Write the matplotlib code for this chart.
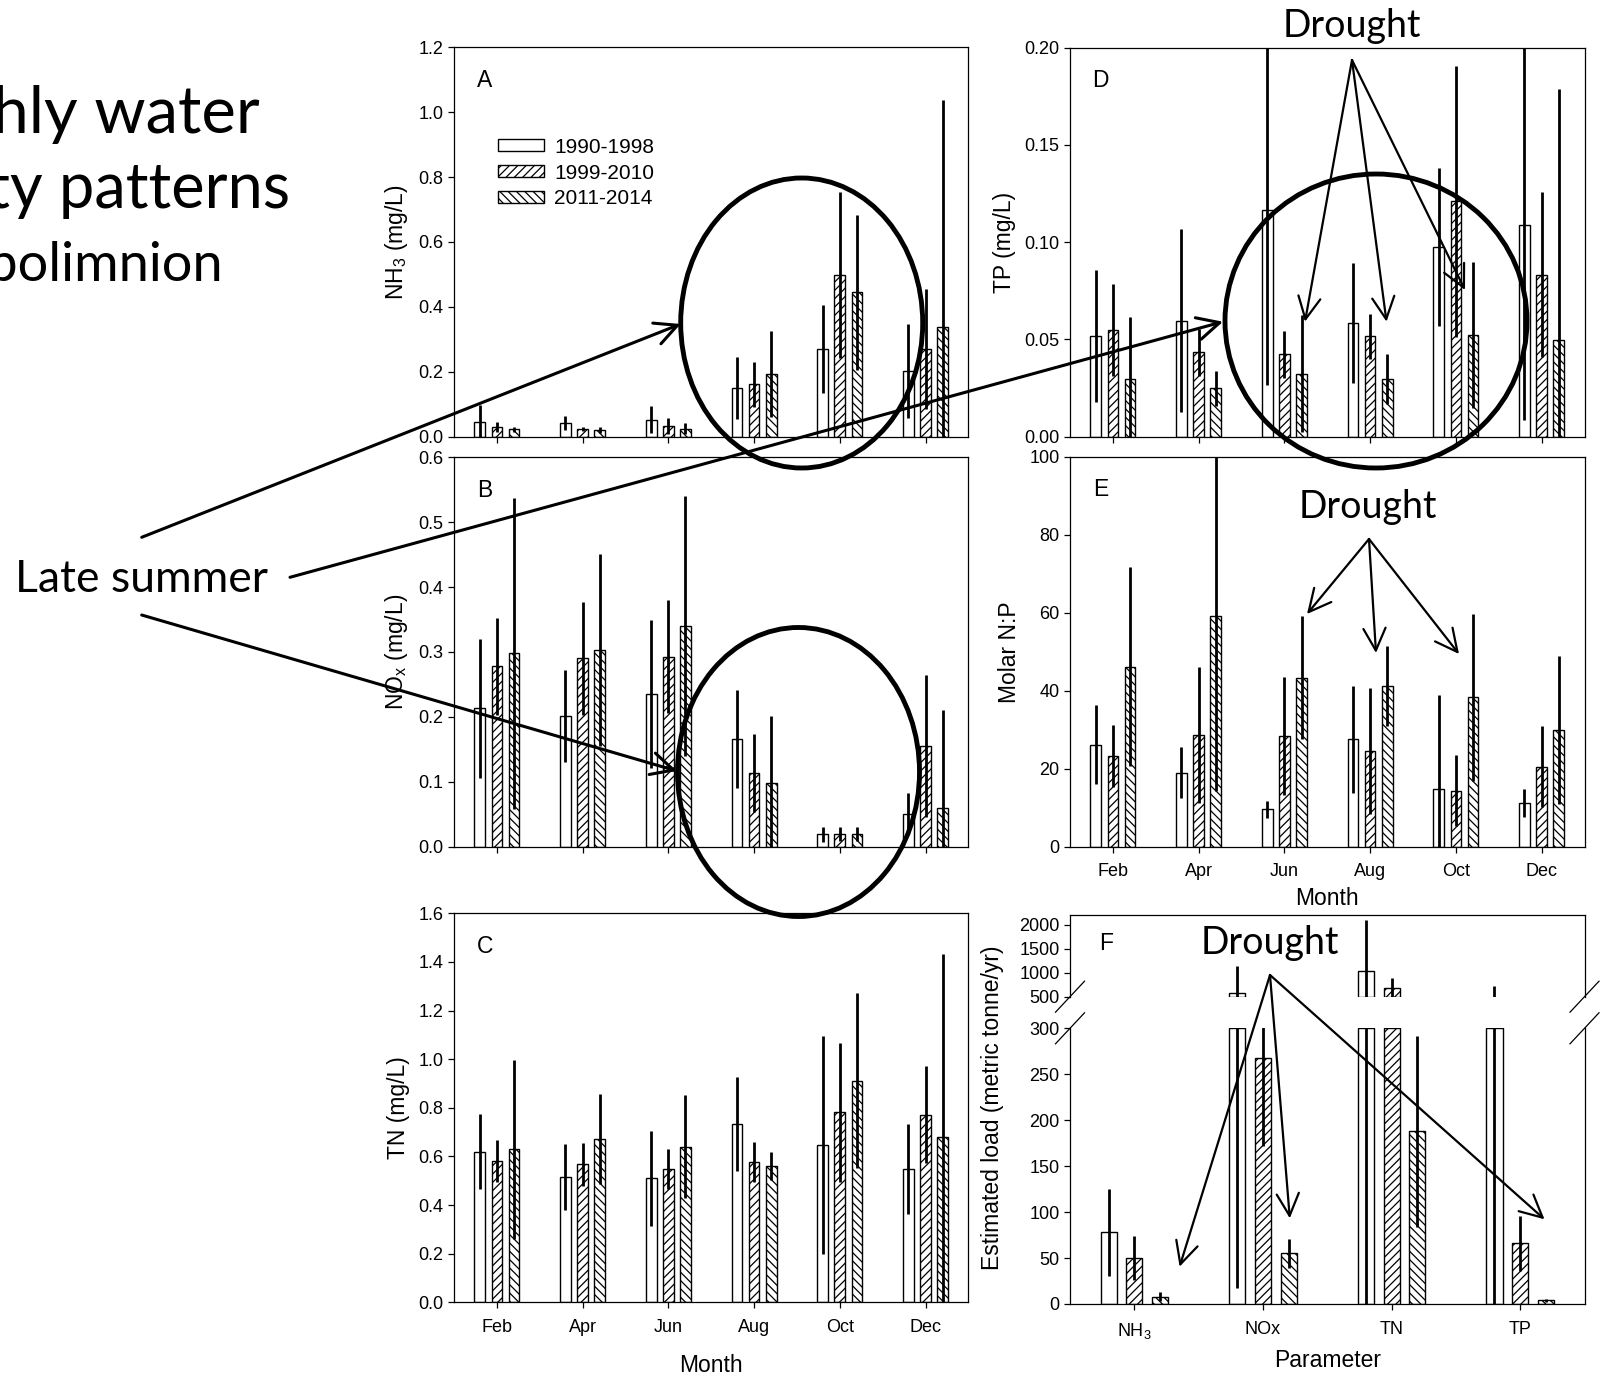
import numpy as np
import matplotlib
matplotlib.use("Agg")
import matplotlib.pyplot as plt
from matplotlib.patches import Ellipse, Patch
from matplotlib.ticker import FormatStrFormatter, MultipleLocator

plt.rcParams["font.family"] = ["Liberation Sans", "DejaVu Sans"]
plt.rcParams["mathtext.default"] = "regular"
plt.rcParams["hatch.linewidth"] = 0.9

# ---- data: rows are the three periods, columns the months ----
months = ["Feb", "Apr", "Jun", "Aug", "Oct", "Dec"]
periods = ["1990-1998", "1999-2010", "2011-2014"]

nh3_mean = [[0.046, 0.043, 0.053, 0.151, 0.271, 0.202],
            [0.031, 0.023, 0.033, 0.161, 0.498, 0.270],
            [0.023, 0.021, 0.025, 0.193, 0.445, 0.337]]
nh3_sd = [[0.052, 0.021, 0.043, 0.095, 0.135, 0.144],
          [0.015, 0.006, 0.024, 0.068, 0.255, 0.185],
          [0.008, 0.010, 0.016, 0.133, 0.238, 0.700]]

nox_mean = [[0.213, 0.201, 0.236, 0.166, 0.019, 0.051],
            [0.278, 0.290, 0.293, 0.113, 0.020, 0.155],
            [0.298, 0.303, 0.340, 0.098, 0.020, 0.060]]
nox_sd = [[0.107, 0.071, 0.114, 0.076, 0.012, 0.032],
          [0.075, 0.087, 0.087, 0.060, 0.011, 0.109],
          [0.240, 0.148, 0.200, 0.104, 0.011, 0.150]]

tn_mean = [[0.620, 0.515, 0.510, 0.732, 0.647, 0.548],
           [0.581, 0.568, 0.547, 0.576, 0.781, 0.772],
           [0.629, 0.672, 0.640, 0.562, 0.912, 0.679]]
tn_sd = [[0.155, 0.136, 0.195, 0.193, 0.448, 0.184],
         [0.087, 0.089, 0.082, 0.082, 0.287, 0.201],
         [0.368, 0.184, 0.213, 0.058, 0.359, 0.752]]

tp_mean = [[0.0518, 0.0596, 0.1167, 0.0584, 0.0973, 0.1087],
           [0.0550, 0.0434, 0.0424, 0.0515, 0.1210, 0.0833],
           [0.0297, 0.0249, 0.0323, 0.0297, 0.0524, 0.0498]]
tp_sd = [[0.0340, 0.0470, 0.0900, 0.0310, 0.0406, 0.1000],
         [0.0237, 0.0120, 0.0120, 0.0115, 0.0696, 0.0424],
         [0.0318, 0.0090, 0.0300, 0.0130, 0.0374, 0.1290]]

np_mean = [[26.2, 19.0, 9.6, 27.5, 14.7, 11.1],
           [23.3, 28.6, 28.4, 24.5, 14.3, 20.5],
           [46.2, 59.2, 43.3, 41.2, 38.3, 29.9]]
np_sd = [[10.1, 6.5, 2.2, 13.7, 24.2, 3.6],
         [8.0, 17.5, 15.2, 16.2, 9.1, 10.4],
         [25.6, 45.0, 15.8, 10.3, 21.4, 19.0]]

params = ["NH$_3$", "NOx", "TN", "TP"]
load_mean = [[78, 580, 1045, 350],
             [50, 268, 689, 66],
             [8, 55, 188, 4]]
load_sd = [[47, 563, 1049, 370],
           [24, 96, 196, 30],
           [5, 16, 104, 1.5]]

hatches = ["", "////", "\\\\\\\\"]
offsets = [-0.2, 0.0, 0.2]
bar_w = 0.125

TICK_FS = 13
LABEL_FS = 16.5

W, H = 1602, 1374
fig = plt.figure(figsize=(W / 100, H / 100), dpi=100)
fig.patch.set_facecolor("white")


def add_px_axes(left, top, right, bottom):
    return fig.add_axes([left / W, 1 - bottom / H, (right - left) / W, (bottom - top) / H])


def style_axes(ax):
    for s in ax.spines.values():
        s.set_linewidth(0.9)
    ax.tick_params(direction="out", length=4, width=0.9, labelsize=TICK_FS,
                   top=False, right=False)


def draw_groups(ax, mean, sd, n, top_cap=None, floor=None):
    x = np.arange(n)
    for i in range(3):
        xi = x + offsets[i]
        vals = np.asarray(mean[i], dtype=float)
        if floor is not None:
            keep = vals > floor
            ax.bar(xi[keep], vals[keep] - floor, bar_w, bottom=floor, color="white",
                   edgecolor="k", lw=1, hatch=hatches[i], zorder=2)
        else:
            hts = vals if top_cap is None else np.minimum(vals, top_cap)
            ax.bar(xi, hts, bar_w, color="white", edgecolor="k", lw=1,
                   hatch=hatches[i], zorder=2)
        ax.errorbar(xi, vals, yerr=sd[i], fmt="none", ecolor="k",
                    elinewidth=2.0, capsize=0, zorder=3)


def month_panel(ax, mean, sd, ymax, step, fmt, ylabel, letter, xlabel_pad=None):
    draw_groups(ax, mean, sd, len(months))
    style_axes(ax)
    ax.set_xlim(-0.5, len(months) - 0.5)
    ax.set_ylim(0, ymax)
    ax.yaxis.set_major_locator(MultipleLocator(step))
    ax.yaxis.set_major_formatter(FormatStrFormatter(fmt))
    ax.set_xticks(np.arange(len(months)))
    if xlabel_pad is not None:
        ax.set_xticklabels(months)
        ax.tick_params(axis="x", pad=8)
        ax.set_xlabel("Month", fontsize=LABEL_FS, labelpad=xlabel_pad)
    else:
        ax.set_xticklabels([])
    ax.set_ylabel(ylabel, fontsize=LABEL_FS, labelpad=6)
    ax.text(0.06, 0.915, letter, transform=ax.transAxes, fontsize=16.5,
            ha="center", va="center")


# ---- left column: NH3, NOx, TN ----
ax_a = add_px_axes(454, 47.3, 968.4, 436.7)
month_panel(ax_a, nh3_mean, nh3_sd, 1.2, 0.2, "%.1f", "NH$_3$ (mg/L)", "A")
handles = [Patch(facecolor="white", edgecolor="k", hatch=h, lw=1) for h in hatches]
ax_a.legend(handles, periods, loc="upper left", bbox_to_anchor=(0.0855, 0.768),
            frameon=False, fontsize=15, handlelength=2.2, handleheight=0.5,
            handletextpad=0.5, labelspacing=0.33, borderpad=0, borderaxespad=0)

ax_b = add_px_axes(454, 457.3, 968.4, 846.7)
month_panel(ax_b, nox_mean, nox_sd, 0.6, 0.1, "%.1f", "NO$_x$ (mg/L)", "B")

ax_c = add_px_axes(454, 913.3, 968.4, 1302.3)
month_panel(ax_c, tn_mean, tn_sd, 1.6, 0.2, "%.1f", "TN (mg/L)", "C", xlabel_pad=13)

# ---- right column: TP, N:P ----
ax_d = add_px_axes(1070, 47.5, 1584.5, 436.7)
month_panel(ax_d, tp_mean, tp_sd, 0.2, 0.05, "%.2f", "TP (mg/L)", "D")

ax_e = add_px_axes(1070, 456.7, 1584.5, 846.7)
month_panel(ax_e, np_mean, np_sd, 100, 20, "%d", "Molar N:P", "E", xlabel_pad=5)

# ---- panel F: annual loads on a broken y axis ----
low_max, high_min, high_max = 300, 500, 2209
ax_fh = add_px_axes(1070, 915, 1584.5, 996.7)
ax_fl = add_px_axes(1070, 1028.3, 1584.5, 1304)
draw_groups(ax_fh, load_mean, load_sd, len(params), floor=high_min)
draw_groups(ax_fl, load_mean, load_sd, len(params), top_cap=low_max)
for ax in (ax_fh, ax_fl):
    style_axes(ax)
    ax.set_xlim(-0.5, len(params) - 0.5)
ax_fh.set_ylim(high_min, high_max)
ax_fh.set_yticks([500, 1000, 1500, 2000])
ax_fh.spines["bottom"].set_visible(False)
ax_fh.tick_params(axis="x", bottom=False, labelbottom=False)
ax_fl.set_ylim(0, low_max)
ax_fl.yaxis.set_major_locator(MultipleLocator(50))
ax_fl.spines["top"].set_visible(False)
ax_fl.set_xticks(np.arange(len(params)))
ax_fl.set_xticklabels(params)
ax_fl.tick_params(axis="x", pad=8)
ax_fl.set_xlabel("Parameter", fontsize=LABEL_FS, labelpad=6)
fig.text(993 / W, 1 - 1108 / H, "Estimated load (metric tonne/yr)", rotation=90,
         fontsize=LABEL_FS, ha="center", va="center")
fig.text(1106 / W, 1 - 943 / H, "F", fontsize=16.5, ha="center", va="center")

# ---- overlay in pixel coordinates for notes, circles and arrows ----
ov = fig.add_axes([0, 0, 1, 1], zorder=10)
ov.set_xlim(0, W)
ov.set_ylim(H, 0)
ov.axis("off")

# break marks on both sides of panel F
for xb in (1070, 1584.5):
    for yb in (996.7, 1028.3):
        ov.plot([xb - 14.5, xb + 14.5], [yb + 15.5, yb - 15.5], color="k", lw=0.9)

note_font = ["Lato", "DejaVu Sans"]
ov.text(260, 133, "Monthly water", fontsize=47, family=note_font, ha="right", va="baseline")
ov.text(290, 208, "quality patterns", fontsize=45.5, family=note_font, ha="right", va="baseline")
ov.text(223, 281, "Hypolimnion", fontsize=39, family=note_font, ha="right", va="baseline")
ov.text(15, 592, "Late summer", fontsize=32, family=note_font, ha="left", va="baseline")

for cx, cy, ew, eh in [(801.7, 323, 242, 290), (798.5, 772, 242, 289), (1376, 321, 302, 294)]:
    ov.add_patch(Ellipse((cx, cy), ew, eh, fill=False, ec="k", lw=3.5))


def arrow(start, end, lw):
    ov.annotate("", xy=end, xytext=start,
                arrowprops=dict(arrowstyle="->,head_length=0.8,head_width=0.4",
                                lw=lw, color="k", shrinkA=0, shrinkB=0,
                                mutation_scale=20))


arrow((141.7, 537.3), (680.7, 324), 2.2)
arrow((290, 577.3), (1223, 321.7), 2.2)
arrow((141.7, 615), (676.9, 771), 2.2)

drought_notes = [
    ((1352, 37), (1352, 60), [(1305, 321.7), (1386.5, 321.7), (1465, 290)]),
    ((1368, 518), (1369, 539), [(1307, 614), (1376, 653), (1459, 654)]),
    ((1270, 954), (1270, 975), [(1179.6, 1266.7), (1289.8, 1218.3), (1544.5, 1219.3)]),
]
for (tx, ty), src, targets in drought_notes:
    ov.text(tx, ty, "Drought", fontsize=27, family=note_font, ha="center", va="baseline")
    for tgt in targets:
        arrow(src, tgt, 1.6)

fig.savefig("out.png", dpi=100)
